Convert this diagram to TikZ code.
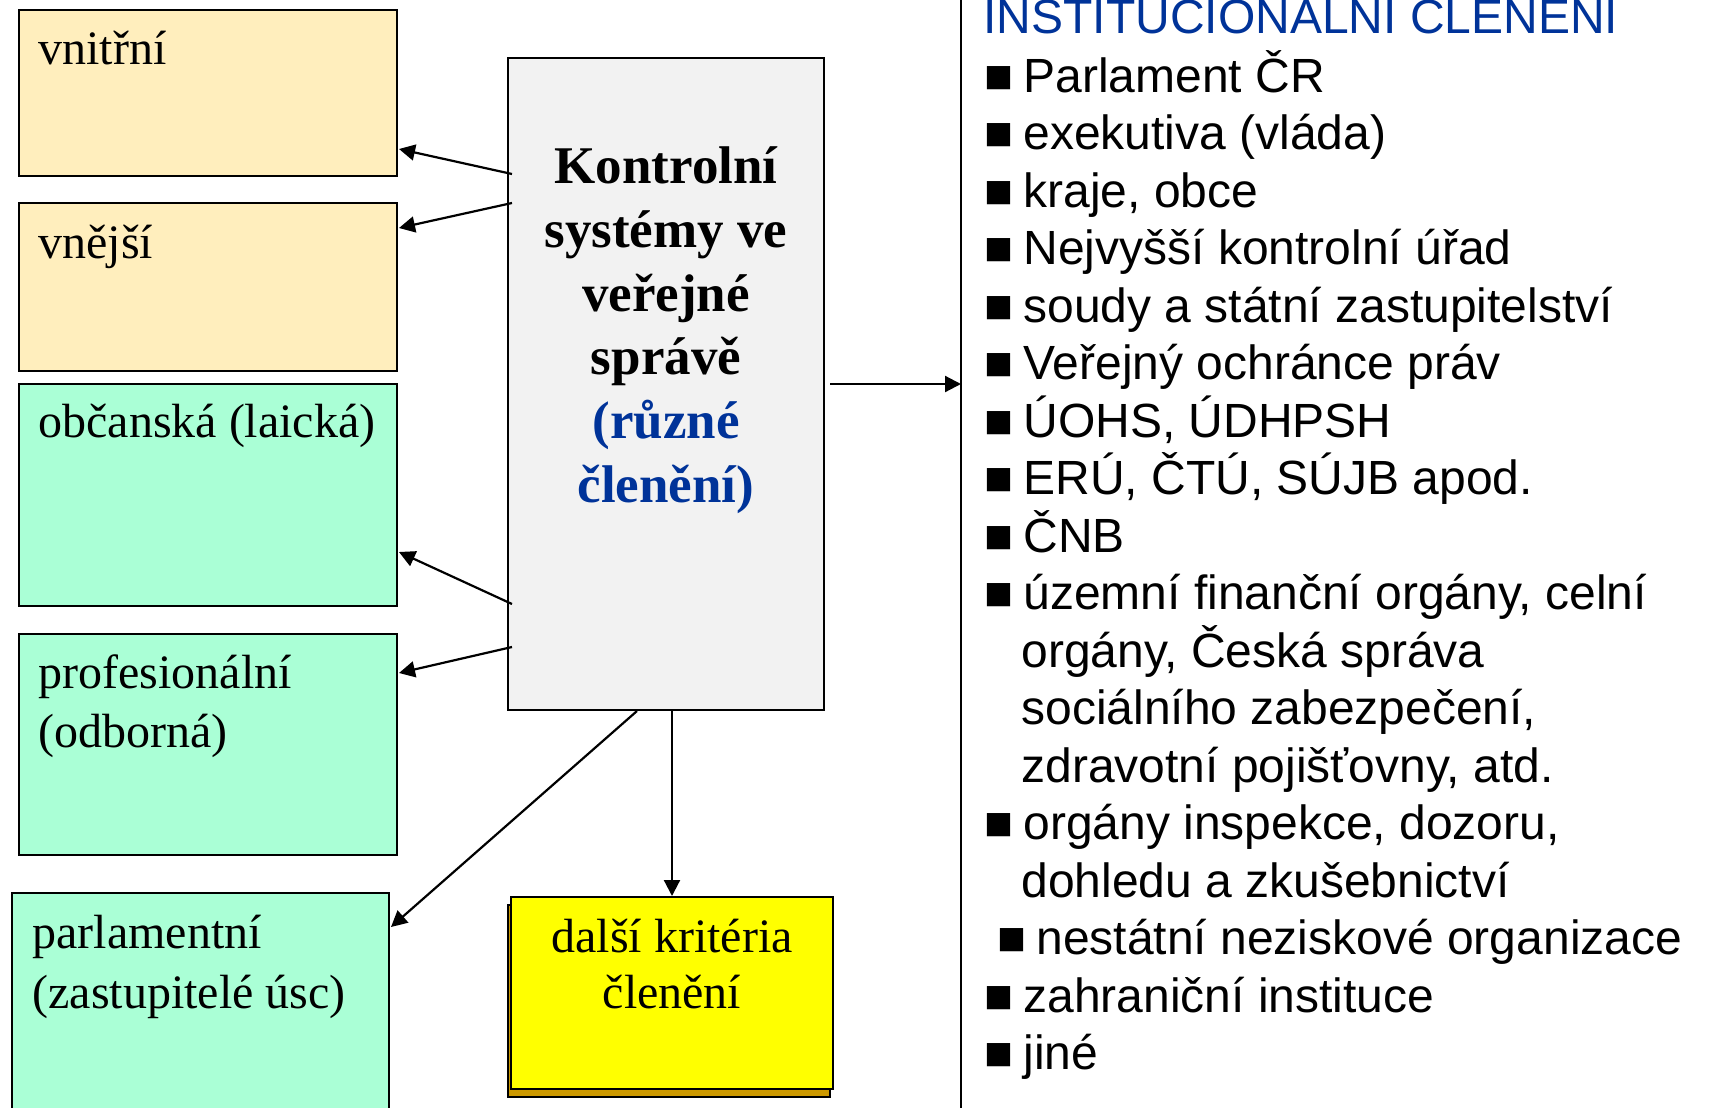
\documentclass[tikz,border=0pt]{standalone}
\usepackage{fontspec}
\setmainfont{Liberation Serif}
\newfontfamily\arialf{Liberation Sans}
\usetikzlibrary{arrows.meta,calc,shadows}
\definecolor{beige}{RGB}{255,238,189}
\definecolor{mint}{RGB}{170,255,214}
\definecolor{panel}{RGB}{242,242,242}
\definecolor{navy}{RGB}{0,51,153}
\definecolor{gold}{RGB}{204,153,0}
\definecolor{pureyellow}{RGB}{255,255,0}
\newcommand\blt{\makebox[19.5pt][l]{■}}
\begin{document}
\begin{tikzpicture}[x=0.5pt,y=-0.5pt,
  boxbase/.style={draw=black,line width=1pt,anchor=north west,inner sep=0pt},
  beigebox/.style={boxbase,fill=beige,minimum width=189pt},
  mintbox/.style={boxbase,fill=mint,minimum width=189pt},
  centerbox/.style={boxbase,fill=panel,minimum width=158pt,minimum height=326pt},
  yellowbox/.style={boxbase,fill=pureyellow,minimum width=161pt,minimum height=96pt,
    copy shadow={shadow xshift=-1.5pt,shadow yshift=-4pt,fill=gold,draw=black,line width=1pt}},
  serif/.style={inner sep=0pt,anchor=base west,font=\fontsize{24pt}{28.8pt}\selectfont},
  serifc/.style={inner sep=0pt,anchor=base,font=\fontsize{24pt}{28.8pt}\selectfont},
  boldc/.style={inner sep=0pt,anchor=base,font=\bfseries\fontsize{26.5pt}{32pt}\selectfont},
  lst/.style={inner sep=0pt,anchor=base west,font=\arialf\fontsize{24pt}{28.8pt}\selectfont},
  arr/.style={line width=1.1pt,-{Triangle[length=8pt,width=8pt]}}
]
\useasboundingbox (0,0) rectangle (1714,1108);
\clip (0,0) rectangle (1714,1108);

% left boxes
\node[beigebox,minimum height=83pt] (vnitrni) at (18,9) {};
\node[beigebox,minimum height=84pt] (vnejsi) at (18,202) {};
\node[mintbox,minimum height=111pt] (obcanska) at (18,383) {};
\node[mintbox,minimum height=110.5pt] (prof) at (18,633) {};
\node[mintbox,minimum width=188.5pt,minimum height=116pt] (parl) at (11,892) {};

\node[serif] (t-vnitrni) at (38,64) {vnitřní};
\node[serif] (t-vnejsi) at (38,258) {vnější};
\node[serif] (t-obcanska) at (38,437) {občanská (laická)};
\node[serif] (t-prof1) at (38,688) {profesionální};
\node[serif] (t-prof2) at (38,747) {(odborná)};
\node[serif] (t-parl1) at (32,948) {parlamentní};
\node[serif] (t-parl2) at (32,1008) {(zastupitelé úsc)};

% central box
\node[centerbox] (K) at (507,57) {};
\node[boldc] (k1) at (666,183) {Kontrolní};
\node[boldc] (k2) at (666,247) {systémy ve};
\node[boldc] (k3) at (666,311) {veřejné};
\node[boldc] (k4) at (666,374) {správě};
\node[boldc,text=navy] (k5) at (666,438) {(různé};
\node[boldc,text=navy] (k6) at (666,502) {členění)};

% yellow box
\node[yellowbox] (Y) at (510,896) {};
\node[serifc] (y1) at (672,952) {další kritéria};
\node[serifc] (y2) at (672,1008) {členění};

% divider line
\coordinate (Ltop) at (961,0);
\coordinate (Lbot) at (961,1108);
\draw[line width=0.8pt] (Ltop) -- (Lbot);

% arrows
\draw[arr] ($(K.north west)+(5,117)$) -- ($(vnitrni.south east)+(1,-28)$);
\draw[arr] ($(K.north west)+(5,146)$) -- ($(vnejsi.north east)+(1,26)$);
\draw[arr] ($(K.north west)+(5,547)$) -- ($(obcanska.south east)+(1,-55)$);
\draw[arr] ($(K.north west)+(5,590)$) -- ($(prof.north east)+(1,40)$);
\draw[arr] ($(K.south west)+(130,0)$) -- ($(parl.north east)+(1,35)$);
\draw[arr] (K.south -| Y.north) -- (Y.north);
\draw[arr] ($(K.east)+(5,0)$) -- (K.east -| Ltop);

% right list
\node[lst,text=navy] (hdr) at (983,33) {INSTITUCIONÁLNÍ ČLENĚNÍ};
\node[lst] (l0) at (984,92) {\blt Parlament ČR};
\node[lst] (l1) at (984,149.5) {\blt exekutiva (vláda)};
\node[lst] (l2) at (984,207) {\blt kraje, obce};
\node[lst] (l3) at (984,264.5) {\blt Nejvyšší kontrolní úřad};
\node[lst] (l4) at (984,322) {\blt soudy a státní zastupitelství};
\node[lst] (l5) at (984,379.5) {\blt Veřejný ochránce práv};
\node[lst] (l6) at (984,437) {\blt ÚOHS, ÚDHPSH};
\node[lst] (l7) at (984,494.5) {\blt ERÚ, ČTÚ, SÚJB apod.};
\node[lst] (l8) at (984,552) {\blt ČNB};
\node[lst] (l9) at (984,609.5) {\blt územní finanční orgány, celní};
\node[lst] (l10) at (1021,667) {orgány, Česká správa};
\node[lst] (l11) at (1021,724.5) {sociálního zabezpečení,};
\node[lst] (l12) at (1021,782) {zdravotní pojišťovny, atd.};
\node[lst] (l13) at (984,839.5) {\blt orgány inspekce, dozoru,};
\node[lst] (l14) at (1021,897) {dohledu a zkušebnictví};
\node[lst] (l15) at (997,954.5) {\blt nestátní neziskové organizace};
\node[lst] (l16) at (984,1012) {\blt zahraniční instituce};
\node[lst] (l17) at (984,1069.5) {\blt jiné};
\end{tikzpicture}
\end{document}
